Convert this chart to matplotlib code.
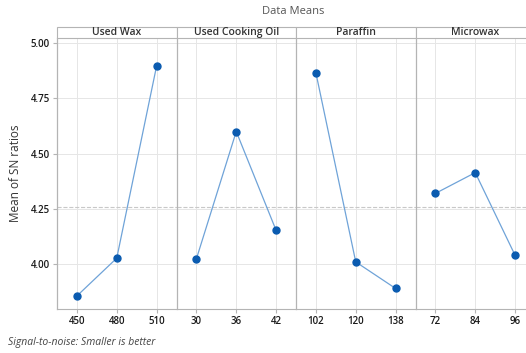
import matplotlib.pyplot as plt
from matplotlib.patches import Rectangle

# --- Données ---
factors = ["Used Wax", "Used Cooking Oil", "Paraffin", "Microwax"]
levels = [["450", "480", "510"],
          ["30", "36", "42"],
          ["102", "120", "138"],
          ["72", "84", "96"]]
used_wax = [3.856, 4.027, 4.896]
used_cooking_oil = [4.024, 4.600, 4.153]
paraffin = [4.865, 4.010, 3.890]
microwax = [4.320, 4.414, 4.040]
series = [used_wax, used_cooking_oil, paraffin, microwax]

grand_mean = sum(sum(s) for s in series) / sum(len(s) for s in series)

plt.rcParams['font.family'] = ['Open Sans', 'DejaVu Sans']

W, H = 526, 353
fig = plt.figure(figsize=(W / 100, H / 100), dpi=100)
# le dernier panneau dépasse le bord droit (image recadrée)
left, right = 57 / W, 535 / W
bottom, top = 1 - 309 / H, 1 - 38 / H
gs = fig.add_gridspec(1, 4, left=left, right=right, bottom=bottom, top=top, wspace=0)

line_col = '#6fa3d8'
mark_col = '#0a5bb0'
grid_col = '#e6e6e6'
frame_col = '#b4b4b4'
header_h = 11 / 271

axes = []
for i, (name, labs, vals) in enumerate(zip(factors, levels, series)):
    ax = fig.add_subplot(gs[0, i], sharey=axes[0] if axes else None)
    axes.append(ax)
    x = list(range(len(vals)))
    ax.plot(x, vals, color=line_col, lw=0.9, zorder=3)
    ax.plot(x, vals, 'o', color=mark_col, ms=5, zorder=4)
    ax.axhline(grand_mean, color='#c8c8c8', ls='--', lw=0.8, zorder=2)
    ax.set_xlim(-0.5, 2.5)
    ax.set_ylim(3.797, 5.023)
    ax.set_xticks(x)
    ax.set_xticklabels(labs, fontsize=7, color='#1a1a1a', fontweight='semibold')
    ax.set_yticks([4.00, 4.25, 4.50, 4.75, 5.00])
    ax.grid(True, color=grid_col, lw=0.7, zorder=0)
    ax.tick_params(axis='x', length=3, color=frame_col, pad=2)
    for s in ['top', 'right']:
        ax.spines[s].set_visible(False)
    ax.spines['bottom'].set_color(frame_col)
    ax.spines['left'].set_color(frame_col)
    ax.spines['left'].set_linewidth(0.9)
    if i > 0:
        ax.tick_params(axis='y', left=False, labelleft=False)
    else:
        ax.set_yticklabels(['4.00', '4.25', '4.50', '4.75', '5.00'], fontsize=7,
                           color='#1a1a1a', fontweight='semibold')
        ax.tick_params(axis='y', length=3, color=frame_col, pad=2)
        ax.set_ylabel("Mean of SN ratios", fontsize=8.5, color='#333333', labelpad=6)
    # bandeau d'en-tête
    ax.add_patch(Rectangle((0, 1), 1, header_h, transform=ax.transAxes, facecolor='white',
                           edgecolor=frame_col, lw=0.8, clip_on=False, zorder=5))
    ax.text(0.5, 1 + header_h / 2, name, transform=ax.transAxes, ha='center', va='center',
            fontsize=7.5, color='#333333', fontweight='semibold', zorder=6)

fig.text(293 / W, 1 - 11 / H, "Data Means", ha='center', va='center', fontsize=8, color='#555555')
fig.text(8 / W, 1 - 342 / H, "Signal-to-noise: Smaller is better", ha='left', va='center',
         fontsize=7.5, style='italic', color='#444444')

fig.savefig("out.png", dpi=100)
